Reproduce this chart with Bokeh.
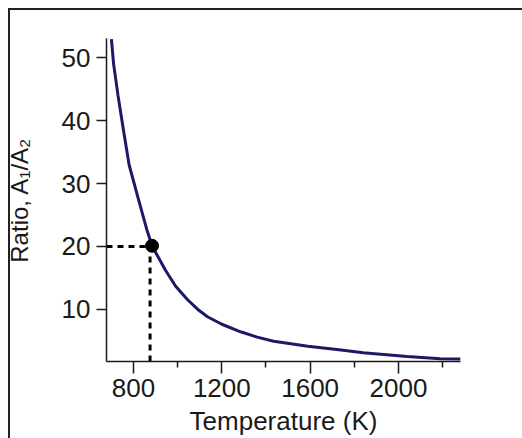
from bokeh.plotting import figure
from bokeh.models import FixedTicker, Range1d
from bokeh.embed import file_html
from bokeh.resources import INLINE

# Data
temperature_K = [700, 710, 730, 755, 780, 820, 860, 885, 945, 990, 1045, 1090,
                 1135, 1200, 1285, 1360, 1435, 1590, 1740, 1840, 2040, 2190, 2281]
ratio = [53.0, 49.0, 44.0, 38.4, 33.0, 27.8, 22.7, 20.0, 16.2, 13.7, 11.5, 10.0,
         8.8, 7.6, 6.4, 5.55, 4.9, 4.1, 3.5, 3.05, 2.45, 2.1, 2.05]
marker_T = [884]
marker_R = [20.1]
guide_T = 875
guide_R = 20
x_ticks = [800, 1200, 1600, 2000]
x_minor_ticks = [1000, 1400, 1800, 2200]
y_ticks = [10, 20, 30, 40, 50]

FONT = "Liberation Sans"
INK = "#1a1a1a"
CURVE = "#1c1a66"

frame_bg = ("linear-gradient(#222,#222) 8px 8px / 2px 100% no-repeat, "
            "linear-gradient(#222,#222) 8px 8px / 100% 2px no-repeat, white")

p = figure(width=522, height=438, output_backend="svg", toolbar_location=None,
           x_range=Range1d(677.7, 2281), y_range=Range1d(1.67, 53.1),
           min_border_left=106, min_border_top=38, min_border_right=62,
           min_border_bottom=76,
           styles={"background": frame_bg})
p.outline_line_color = None
p.grid.visible = False
p.background_fill_color = "white"
p.border_fill_alpha = 0

# guides (dashed)
p.line([p.x_range.start, guide_T], [guide_R, guide_R], line_color="black",
       line_width=3, line_dash="6 5")
p.line([guide_T, guide_T], [p.y_range.start, guide_R], line_color="black",
       line_width=3, line_dash="6 5")

p.line(temperature_K, ratio, line_color=CURVE, line_width=3)
p.scatter(marker_T, marker_R, size=13, color="black")

xa = p.xaxis[0]
xa.ticker = FixedTicker(ticks=x_ticks, minor_ticks=x_minor_ticks)
xa.axis_label = "Temperature (K)"
ya = p.yaxis[0]
ya.ticker = FixedTicker(ticks=y_ticks)
ya.axis_label = "Ratio, A₁/A₂"

for ax in (xa, ya):
    ax.axis_line_color = INK
    ax.axis_line_width = 1.5
    ax.major_tick_line_color = INK
    ax.major_tick_line_width = 1.5
    ax.minor_tick_line_color = INK
    ax.minor_tick_line_width = 1.5
    ax.major_tick_in = 0
    ax.minor_tick_in = 0
    ax.major_label_text_font = FONT
    ax.major_label_text_font_size = "26px"
    ax.major_label_text_color = INK
    ax.axis_label_text_font = FONT
    ax.axis_label_text_font_style = "normal"
    ax.axis_label_text_color = INK

xa.axis_label_text_font_size = "26px"
ya.axis_label_text_font_size = "24px"
xa.major_label_standoff = 5
ya.major_label_standoff = 6
xa.major_tick_out = 12
xa.minor_tick_out = 6
xa.axis_label_standoff = 6
ya.major_tick_out = 10
ya.minor_tick_out = 0
ya.axis_label_standoff = 26

open("out.html", "w").write(file_html(p, INLINE))
